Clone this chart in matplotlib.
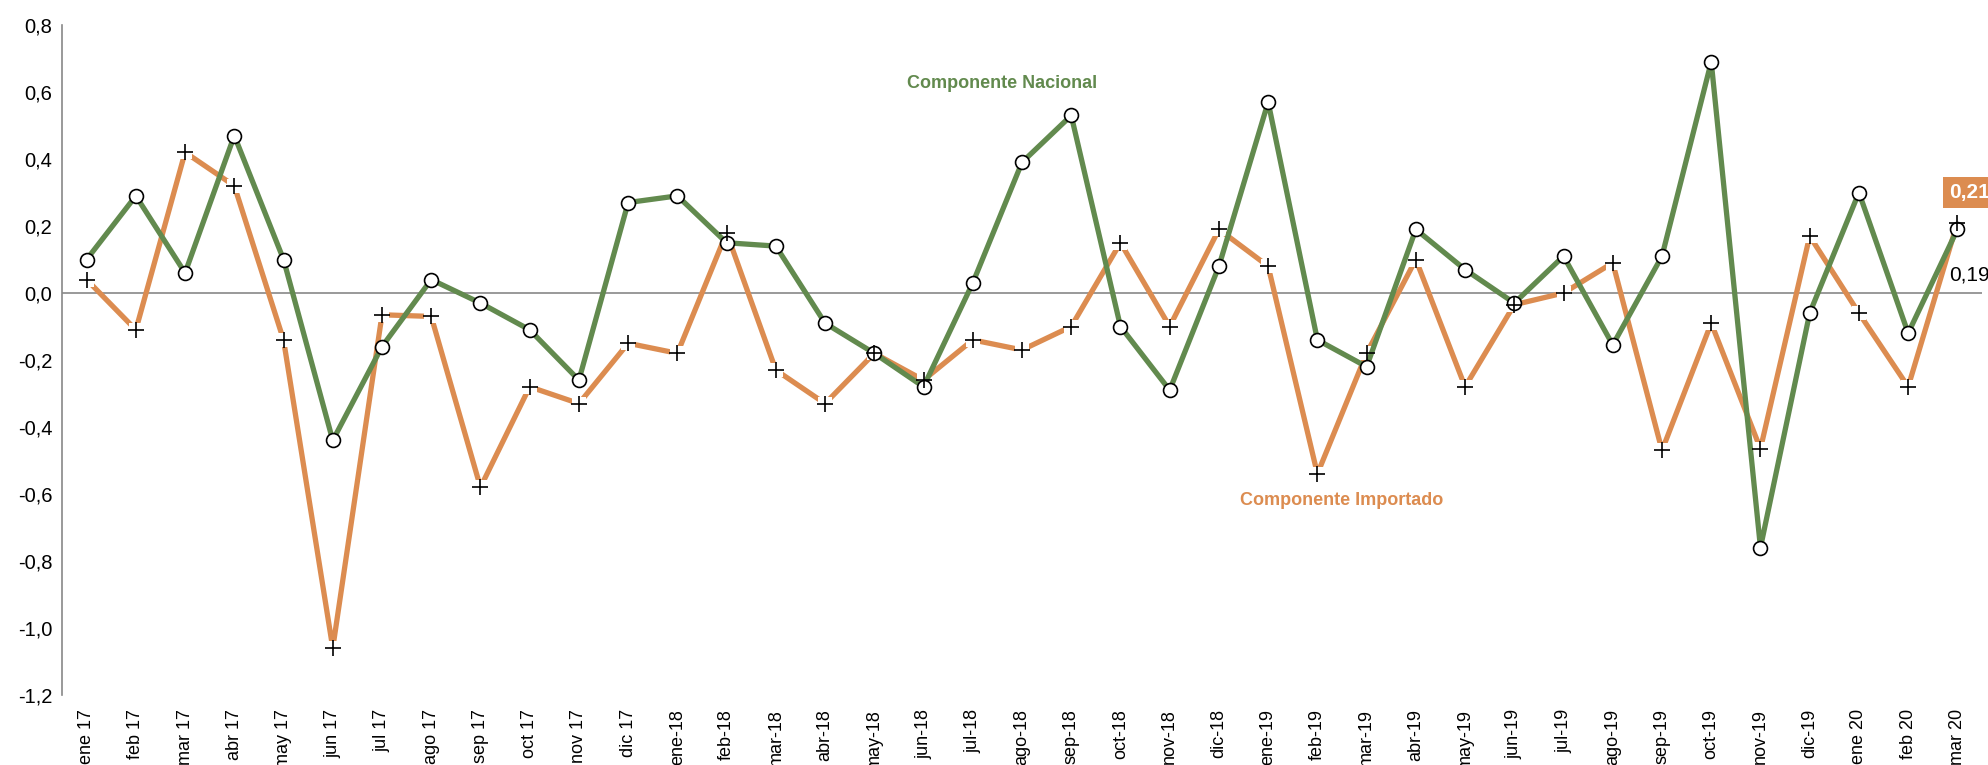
import matplotlib.pyplot as plt
import numpy as np

plt.rcParams['font.family'] = ['Liberation Sans', 'DejaVu Sans']

# Meses
meses = ['ene 17', 'feb 17', 'mar 17', 'abr 17', 'may 17', 'jun 17', 'jul 17',
         'ago 17', 'sep 17', 'oct 17', 'nov 17', 'dic 17', 'ene-18', 'feb-18',
         'mar-18', 'abr-18', 'may-18', 'jun-18', 'jul-18', 'ago-18', 'sep-18',
         'oct-18', 'nov-18', 'dic-18', 'ene-19', 'feb-19', 'mar-19', 'abr-19',
         'may-19', 'jun-19', 'jul-19', 'ago-19', 'sep-19', 'oct-19', 'nov-19',
         'dic-19', 'ene 20', 'feb 20', 'mar 20']

# Componente nacional
nacional = [0.10, 0.29, 0.06, 0.47, 0.10, -0.44, -0.16, 0.04, -0.03, -0.11,
            -0.26, 0.27, 0.29, 0.15, 0.14, -0.09, -0.18, -0.28, 0.03, 0.39,
            0.53, -0.10, -0.29, 0.08, 0.57, -0.14, -0.22, 0.19, 0.07, -0.03,
            0.11, -0.155, 0.11, 0.69, -0.76, -0.06, 0.30, -0.12, 0.19]

# Componente importado
importado = [0.04, -0.11, 0.42, 0.32, -0.14, -1.06, -0.065, -0.07, -0.58, -0.28,
             -0.33, -0.15, -0.18, 0.18, -0.23, -0.33, -0.18, -0.26, -0.14, -0.17,
             -0.10, 0.15, -0.10, 0.19, 0.08, -0.54, -0.18, 0.10, -0.28, -0.035,
             0.00, 0.09, -0.47, -0.09, -0.465, 0.17, -0.06, -0.28, 0.21]

verde = '#628A4E'
naranja = '#DC8C50'

x = np.arange(len(meses))

fig = plt.figure(figsize=(19.88, 7.65), dpi=100)
ax = fig.add_axes([62 / 1988, 70 / 765, (1982 - 62) / 1988, (740 - 70) / 765])

ax.axhline(0, color='#888888', lw=1.2, zorder=1)

# Lineas
ax.plot(x, importado, color=naranja, lw=3.8, zorder=2, solid_capstyle='butt')
ax.plot(x, importado, 's', color='white', ms=10, mew=0, zorder=2.5)
ax.plot(x, nacional, color=verde, lw=3.8, zorder=3)
ax.plot(x, nacional, 'o', mfc='white', mec='black', mew=1.2, ms=10, zorder=4)
ax.plot(x, importado, '+', color='black', mew=1.2, ms=11, zorder=5)

ax.set_xlim(-0.5, len(meses) - 0.5)
ax.set_ylim(-1.2, 0.8)
yt = np.arange(-1.2, 0.81, 0.2)
ax.set_yticks(yt)
ax.set_yticklabels([f'{v:.1f}'.replace('.', ',').replace('-0,0', '0,0') for v in yt],
                   fontsize=14.5)
ax.set_xticks(x)
ax.set_xticklabels(meses, rotation=90, fontsize=13, va='top')
ax.tick_params(axis='both', length=0)
ax.tick_params(axis='x', pad=10)
ax.tick_params(axis='y', pad=7)

for s in ['top', 'right', 'bottom']:
    ax.spines[s].set_visible(False)
ax.spines['left'].set_color('#888888')
ax.spines['left'].set_linewidth(1.2)

# Etiquetas
ax.text(18.6, 0.625, 'Componente Nacional', color=verde, fontsize=13,
        fontweight='bold', ha='center', va='center')
ax.text(25.5, -0.62, 'Componente Importado', color=naranja, fontsize=13,
        fontweight='bold', ha='center', va='center')
ax.text(38.25, importado[-1] + 0.09, f'{importado[-1]:.2f}'.replace('.', ','),
        color='white', fontsize=15, fontweight='bold', ha='center', va='center',
        bbox=dict(boxstyle='square,pad=0.3', fc=naranja, ec='none'), clip_on=False)
ax.text(38.25, nacional[-1] - 0.135, f'{nacional[-1]:.2f}'.replace('.', ','),
        color='black', fontsize=15, ha='center', va='center', clip_on=False)

fig.savefig('out.png', dpi=100)
